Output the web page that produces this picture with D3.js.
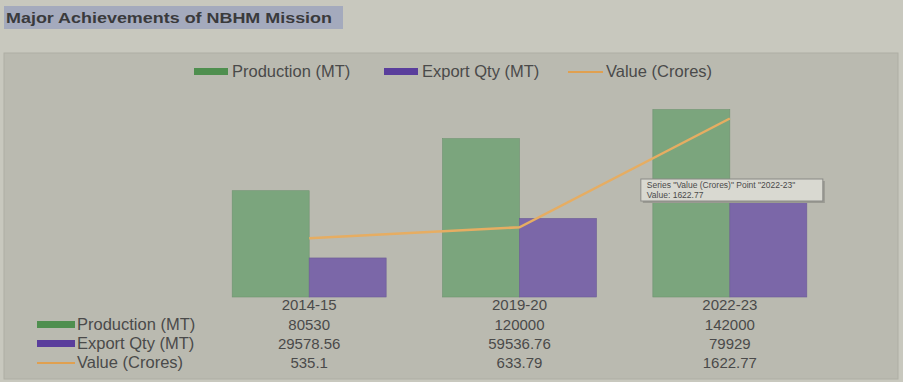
<!DOCTYPE html>
<html><head><meta charset="utf-8">
<script src="https://cdn.jsdelivr.net/npm/d3@7"></script>
<style>
html,body{margin:0;padding:0;background:#c8c8be;}
svg{display:block;font-family:"Liberation Sans",Arial,sans-serif;}
</style></head>
<body>
<svg id="chart" width="903" height="382"></svg>
<script>
const title = "Major Achievements of NBHM Mission";
const categories = ["2014-15", "2019-20", "2022-23"];
const production = [80530, 120000, 142000];
const exportQty = [29578.56, 59536.76, 79929];
const valueCrores = [535.1, 633.79, 1622.77];
const valueLabels = ["535.1", "633.79", "1622.77"];
const seriesNames = ["Production (MT)", "Export Qty (MT)", "Value (Crores)"];
const seriesColors = ["#7ba57d", "#7b67a8", "#e6ad62"];
const keyColors = ["#4f8f4f", "#5a3e9c", "#e0a050"];
const tooltipLines = ['Series "Value (Crores)" Point "2022-23"', 'Value: 1622.77'];

const svg = d3.select("#chart");

// title highlight
svg.append("rect").attr("x",4).attr("y",6).attr("width",339).attr("height",23).attr("fill","#a4aabd");
svg.append("text").attr("x",6).attr("y",23).attr("font-size",15.5).attr("font-weight","bold")
  .attr("fill","#3a3a3c").attr("textLength",326).attr("lengthAdjust","spacingAndGlyphs").text(title);

// panel
svg.append("rect").attr("x",4).attr("y",53).attr("width",894).attr("height",326)
  .attr("fill","#babab0").attr("stroke","#aeaea4").attr("stroke-width",1);

const x = d3.scaleBand().domain(categories).range([204, 835]).paddingInner(0.268).paddingOuter(0.134);
const x1 = d3.scaleBand().domain([0,1]).range([0, x.bandwidth()]);
const y = d3.scaleLinear().domain([0,150000]).range([297, 99]);
const y2 = d3.scaleLinear().domain([0,1800]).range([297, 99]);

const g = svg.append("g");
// bars
[production, exportQty].forEach((vals, si) => {
  g.selectAll(".bar"+si).data(vals).enter().append("rect")
    .attr("x",(d,i)=>x(categories[i]) + x1(si))
    .attr("y",d=>y(d))
    .attr("width",x1.bandwidth())
    .attr("height",d=>y(0)-y(d))
    .attr("fill",seriesColors[si])
    .attr("stroke", si===0 ? "#6f9371" : "#6d5d96").attr("stroke-width",0.6);
});

// line
const line = d3.line().x((d,i)=>x(categories[i]) + x.bandwidth()/2).y(d=>y2(d));
g.append("path").datum(valueCrores).attr("d",line).attr("fill","none")
  .attr("stroke",seriesColors[2]).attr("stroke-width",2.5);

// category labels
g.selectAll(".cat").data(categories).enter().append("text")
  .attr("x",d=>x(d)+x.bandwidth()/2).attr("y",310).attr("text-anchor","middle")
  .attr("font-size",15).attr("fill","#4a4a4a").text(d=>d);

// tooltip
const tx = x(categories[2]) + x.bandwidth()/2 - 89, ty = 179;
svg.append("rect").attr("x",tx+2).attr("y",ty+2).attr("width",182).attr("height",22).attr("fill","#9a9a92");
svg.append("rect").attr("x",tx).attr("y",ty).attr("width",182).attr("height",22)
  .attr("fill","#d9d9d1").attr("stroke","#8a8a86").attr("stroke-width",1);
tooltipLines.forEach((t,i)=>{
  svg.append("text").attr("x",tx+6).attr("y",ty+9+i*10).attr("font-size",8.5)
    .attr("fill","#4a4a4a").text(t);
});

// legend top
const legendX = [194, 384, 568];
seriesNames.forEach((n,i)=>{
  const lg = svg.append("g");
  if (i<2) lg.append("rect").attr("x",legendX[i]).attr("y",68).attr("width",34).attr("height",7).attr("fill",keyColors[i]);
  else lg.append("rect").attr("x",legendX[i]).attr("y",71).attr("width",35).attr("height",2).attr("fill",keyColors[i]);
  lg.append("text").attr("x",legendX[i]+38).attr("y",77).attr("font-size",16.5).attr("fill","#4a4a4a").text(n);
});

// data table
const tableVals = [production.map(String), exportQty.map(String), valueLabels];
const rowY = [330, 349, 368];
seriesNames.forEach((n,i)=>{
  if (i<2) svg.append("rect").attr("x",37).attr("y",rowY[i]-9).attr("width",38).attr("height",7).attr("fill",keyColors[i]);
  else svg.append("rect").attr("x",37).attr("y",rowY[i]-6).attr("width",38).attr("height",2).attr("fill",keyColors[i]);
  svg.append("text").attr("x",77).attr("y",rowY[i]).attr("font-size",16.5).attr("fill","#4a4a4a").text(n);
  tableVals[i].forEach((v,j)=>{
    svg.append("text").attr("x",x(categories[j])+x.bandwidth()/2).attr("y",rowY[i])
      .attr("text-anchor","middle").attr("font-size",15).attr("fill","#4a4a4a").text(v);
  });
});
</script>
</body></html>
